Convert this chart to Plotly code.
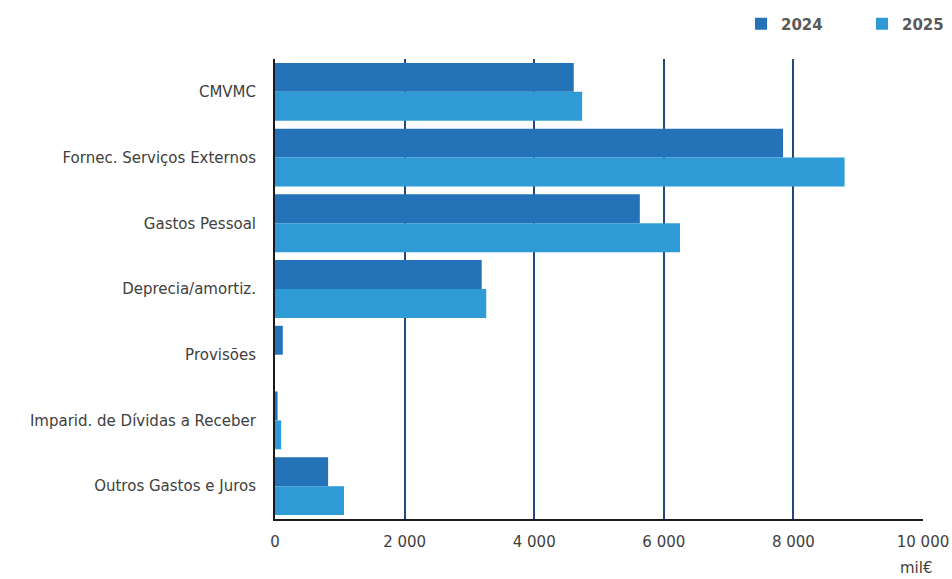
import plotly.graph_objects as go

categories = ["CMVMC", "Fornec. Serviços Externos", "Gastos Pessoal", "Deprecia/amortiz.",
              "Provisões", "Imparid. de Dívidas a Receber", "Outros Gastos e Juros"]
values_2024 = [4610, 7840, 5630, 3190, 120, 40, 820]
values_2025 = [4740, 8790, 6250, 3260, 0, 95, 1065]
tick_vals = [0, 2000, 4000, 6000, 8000, 10000]
tick_text = ["0", "2 000", "4 000", "6 000", "8 000", "10 000"]

FONT = "DejaVu Sans"
fig = go.Figure()
fig.add_trace(go.Bar(y=categories, x=values_2024, name="2024", orientation="h",
                     marker=dict(color="#2472B8", line=dict(width=0))))
fig.add_trace(go.Bar(y=categories, x=values_2025, name="2025", orientation="h",
                     marker=dict(color="#2E9BD6", line=dict(width=0))))

fig.update_layout(
    width=952, height=579,
    margin=dict(l=275, r=29, t=59, b=60, autoexpand=False),
    paper_bgcolor="white", plot_bgcolor="white",
    barmode="group", bargap=0.12, bargroupgap=0,
    font=dict(family=FONT, size=15, color="#404040"),
    showlegend=True,
    legend=dict(orientation="h", xref="container", yref="container",
                x=741 / 952, xanchor="left", y=(579 - 24) / 579, yanchor="middle",
                font=dict(family=FONT, size=15, color="#595959", weight="bold"),
                itemwidth=30, entrywidth=76, traceorder="normal"),
    xaxis=dict(range=[0, 10000], tickvals=tick_vals, ticktext=tick_text,
               showgrid=True, gridcolor="#22487D", gridwidth=2, automargin=False,
               zeroline=False, showline=True, linecolor="#1a1a1a", linewidth=2,
               ticks="", ticklabelstandoff=8, tickfont=dict(size=15, color="#404040")),
    yaxis=dict(autorange="reversed", showline=True, linecolor="#1a1a1a", linewidth=2,
               ticks="", showgrid=False, automargin=False, ticklabelstandoff=14,
               tickfont=dict(size=15, color="#404040")),
    annotations=[dict(text="mil€", x=(935 - 275) / 648, xref="paper", xanchor="right",
                      y=-49 / 460, yref="paper", yanchor="middle", showarrow=False,
                      font=dict(family=FONT, size=15, color="#404040"))],
)
fig.write_html("out.html", config={"displayModeBar": False},
               post_script="document.body.style.margin='0';document.body.style.overflow='hidden';")
